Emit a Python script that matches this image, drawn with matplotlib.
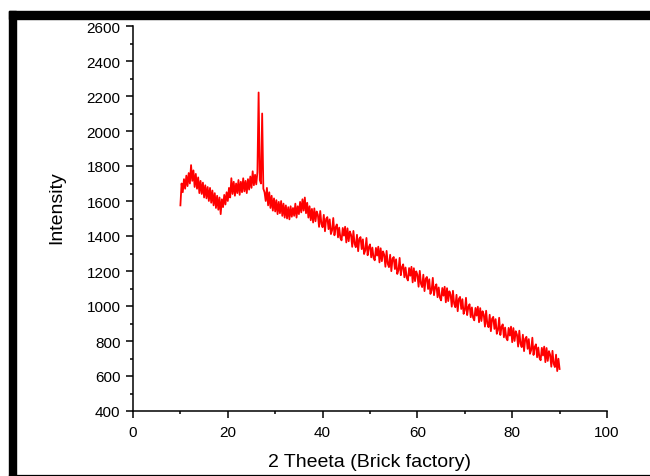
import numpy as np
import matplotlib
matplotlib.use("Agg")
from matplotlib import pyplot as plt
from matplotlib.patches import Rectangle
from matplotlib.lines import Line2D
from matplotlib.ticker import MultipleLocator

plt.rcParams["font.family"] = ["Liberation Sans", "DejaVu Sans"]

# XRD scan, brick factory sample: 2-theta from 10 to 90 in 0.25 degree steps
two_theta = np.arange(10, 90.001, 0.25)

# intensity, four points per degree
intensity = [
    1575, 1700, 1650, 1725,   # 10
    1670, 1745, 1685, 1760,
    1700, 1805, 1715, 1775,
    1680, 1755, 1670, 1735,
    1645, 1715, 1640, 1705,
    1620, 1690, 1615, 1680,   # 15
    1600, 1675, 1590, 1660,
    1575, 1645, 1560, 1630,
    1550, 1620, 1525, 1610,
    1565, 1635, 1580, 1650,
    1600, 1675, 1620, 1730,   # 20
    1640, 1710, 1630, 1700,
    1645, 1720, 1635, 1710,
    1650, 1730, 1655, 1715,
    1645, 1725, 1665, 1740,
    1675, 1770, 1690, 1750,   # 25
    1695, 1765, 2220, 1720,
    1700, 2100, 1670, 1650,
    1600, 1675, 1575, 1650,
    1560, 1630, 1545, 1615,
    1540, 1605, 1525, 1595,   # 30
    1530, 1600, 1515, 1585,
    1505, 1575, 1500, 1565,
    1495, 1570, 1510, 1560,
    1515, 1585, 1505, 1570,
    1525, 1595, 1535, 1610,   # 35
    1545, 1620, 1530, 1590,
    1505, 1570, 1490, 1555,
    1477, 1558, 1484, 1540,
    1521, 1452, 1543, 1469,
    1450, 1521, 1427, 1498,   # 40
    1508, 1439, 1495, 1411,
    1432, 1503, 1404, 1450,
    1466, 1392, 1448, 1389,
    1375, 1446, 1402, 1453,
    1363, 1444, 1370, 1426,   # 45
    1407, 1338, 1429, 1355,
    1336, 1407, 1313, 1384,
    1394, 1325, 1381, 1297,
    1318, 1389, 1290, 1336,
    1352, 1278, 1334, 1275,   # 50
    1261, 1332, 1288, 1339,
    1249, 1330, 1256, 1312,
    1293, 1224, 1315, 1241,
    1222, 1293, 1199, 1270,
    1280, 1211, 1267, 1183,   # 55
    1204, 1275, 1176, 1222,
    1238, 1164, 1220, 1161,
    1146, 1217, 1173, 1224,
    1135, 1216, 1142, 1198,
    1179, 1110, 1201, 1127,   # 60
    1108, 1179, 1085, 1156,
    1166, 1097, 1153, 1069,
    1090, 1161, 1062, 1108,
    1124, 1050, 1106, 1047,
    1032, 1103, 1059, 1110,   # 65
    1021, 1102, 1028, 1084,
    1065, 996, 1087, 1013,
    993, 1064, 970, 1041,
    1052, 983, 1039, 955,
    976, 1047, 948, 994,      # 70
    1010, 936, 992, 933,
    918, 989, 945, 996,
    907, 988, 914, 970,
    951, 882, 973, 899,
    879, 950, 856, 927,       # 75
    938, 869, 925, 841,
    862, 933, 834, 880,
    895, 821, 877, 818,
    804, 875, 831, 882,
    793, 874, 800, 856,       # 80
    837, 768, 859, 785,
    765, 836, 742, 813,
    824, 755, 811, 727,
    748, 819, 720, 766,
    781, 707, 763, 704,       # 85
    690, 761, 717, 768,
    679, 760, 686, 742,
    722, 653, 744, 670,
    651, 722, 628, 699,
    640,                      # 90
]

fig = plt.figure(figsize=(6.5, 4.77), dpi=100)
W, H = 650, 477

# black frame around the picture (top bar, left bar, thin bottom line)
fig.patches.append(Rectangle((9 / W, 457 / H), 1 - 9 / W, 8 / H,
                             transform=fig.transFigure, color="black", zorder=0))
fig.patches.append(Rectangle((9 / W, 0), 7 / W, 465 / H,
                             transform=fig.transFigure, color="black", zorder=0))
fig.lines.append(Line2D([9 / W, 1], [0.8 / H, 0.8 / H], transform=fig.transFigure,
                        color="black", linewidth=0.9))

ax = fig.add_axes([133 / W, 65 / H, 474 / W, 385 / H])
ax.plot(two_theta, intensity, color="#ff0000", linewidth=1.3)

ax.set_xlim(0, 100)
ax.set_ylim(400, 2600)
ax.xaxis.set_major_locator(MultipleLocator(20))
ax.xaxis.set_minor_locator(MultipleLocator(10))
ax.yaxis.set_major_locator(MultipleLocator(200))
ax.yaxis.set_minor_locator(MultipleLocator(100))

for side in ("top", "right"):
    ax.spines[side].set_visible(False)
for side in ("left", "bottom"):
    ax.spines[side].set_linewidth(1.1)

ax.tick_params(which="major", direction="out", length=5, width=1.1,
               labelsize=11, pad=4)
ax.tick_params(which="minor", direction="out", length=2.2, width=1.1)
ax.tick_params(axis="x", which="major", pad=5)

ax.set_xlabel("2 Theeta (Brick factory)", fontsize=14)
ax.set_ylabel("Intensity", fontsize=14)
ax.xaxis.set_label_coords(0.5, -0.108)
ax.yaxis.set_label_coords(-0.143, 0.532)

fig.savefig("out.png", dpi=100)
